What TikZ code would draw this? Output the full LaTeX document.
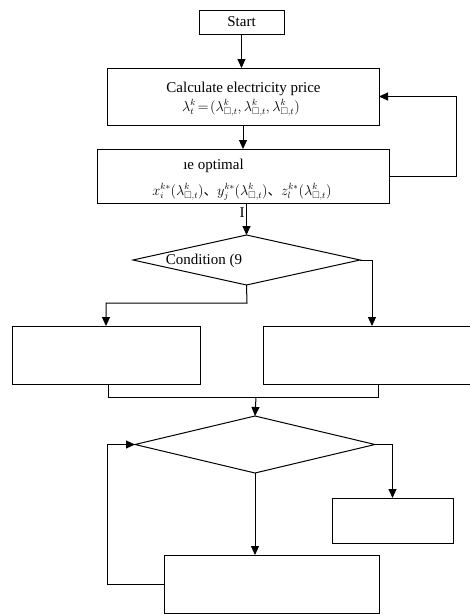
\documentclass[tikz,border=0pt]{standalone}
\usepackage{amssymb}
\usepackage{fontspec}
\setmainfont{Liberation Serif}
\newfontfamily\cjk{Noto Sans CJK SC}
\usetikzlibrary{arrows.meta,shapes.geometric}
\begin{document}
\begin{tikzpicture}[x=1pt,y=-1pt,
  line width=1pt,
  box/.style={draw=black,line width=1pt,inner sep=0pt,outer sep=0pt},
  dia/.style={draw=black,diamond,line width=1pt,inner sep=0pt,outer sep=0pt},
  lbl/.style={inner sep=0pt,font=\fontsize{15}{18}\selectfont},
  fml/.style={inner sep=0pt,font=\fontsize{13.5}{16}\selectfont},
  arr/.style={-{Triangle[length=9pt,width=8pt]}}]
\useasboundingbox (0,0) rectangle (470,614);
% boxes
\node[box,minimum width=85pt,minimum height=24pt] (start) at (241.5,22) {};
\node[lbl] (starttxt) at (241.5,22) {Start};
\node[box,minimum width=272pt,minimum height=57pt] (calc) at (243,96.5) {};
\node[lbl] (calctxt) at (243.5,89) {Calculate electricity price};
\node[fml] (calcf) at (241,108) {$\lambda_t^k\!=\!(\lambda_{\square,t}^k, \lambda_{\square,t}^k, \lambda_{\square,t}^k)$};
\node[box,minimum width=292pt,minimum height=54pt] (opt) at (243,176) {};
\node[lbl] (opttxt) at (213.5,166) {ıe optimal};
\node[fml] (optf) at (242,192) {$x_i^{k*}(\lambda_{\square,t}^k)$\cjk{、}$y_j^{k*}(\lambda_{\square,t}^k)$\cjk{、}$z_l^{k*}(\lambda_{\square,t}^k)$};
\node[lbl] (itxt) at (242,213) {I};
\node[dia,minimum width=227pt,minimum height=50pt] (d1) at (246.5,260) {};
\node[lbl] (d1txt) at (204,261) {Condition (9};
\node[box,minimum width=188pt,minimum height=58pt] (L) at (106,355) {};
\node[box,minimum width=218pt,minimum height=58pt] (R) at (372,355) {};
\node[dia,minimum width=240pt,minimum height=57pt] (d2) at (255,444.5) {};
\node[box,minimum width=121pt,minimum height=45pt] (S) at (392.5,520.5) {};
\node[box,minimum width=215pt,minimum height=58pt] (B) at (271.5,584) {};
% connectors
\coordinate (fb) at (456,176);
\coordinate (m1) at (247,303);
\coordinate (mL) at (108,397);
\coordinate (mR) at (378,397);
\coordinate (mC) at (256,397);
\coordinate (fl) at (107,584);
\draw[arr] (start.south) -- (start.south |- calc.north);
\draw[arr] (calc.south) -- (calc.south |- opt.north);
\draw[arr] (opt.east) -- (fb) |- (calc.east);
\draw[arr] (d1.north |- opt.south) -- (d1.north);
\draw[arr] (d1.south) -- (m1) -| (L.north);
\draw[arr] (d1.east) -| (R.north);
\draw (mL |- L.south) -- (mL) -- (mR) -- (mR |- R.south);
\draw[arr] (mC) -- (d2.north);
\draw[arr] (d2.south) -- (d2.south |- B.north);
\draw[arr] (d2.east) -| (S.north);
\draw[arr] (B.west) -- (fl) |- (d2.west);
\end{tikzpicture}
\end{document}
